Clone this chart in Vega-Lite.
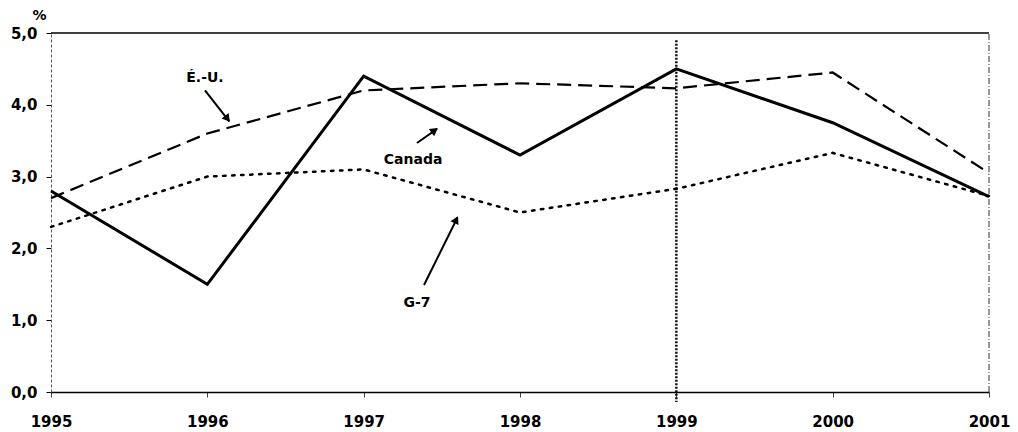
{
  "$schema": "https://vega.github.io/schema/vega-lite/v6.json",
  "width": 938,
  "height": 359,
  "autosize": {"type": "none"},
  "padding": {"left": 51, "top": 33, "right": 29, "bottom": 40},
  "background": "white",
  "config": {"view": {"stroke": null}, "font": "DejaVu Sans"},
  "datasets": {
    "series": [
      {"year": 1995, "series": "Canada", "value": 2.8},
      {"year": 1996, "series": "Canada", "value": 1.5},
      {"year": 1997, "series": "Canada", "value": 4.4},
      {"year": 1998, "series": "Canada", "value": 3.3},
      {"year": 1999, "series": "Canada", "value": 4.5},
      {"year": 2000, "series": "Canada", "value": 3.75},
      {"year": 2001, "series": "Canada", "value": 2.72},
      {"year": 1995, "series": "É.-U.", "value": 2.7},
      {"year": 1996, "series": "É.-U.", "value": 3.6},
      {"year": 1997, "series": "É.-U.", "value": 4.2},
      {"year": 1998, "series": "É.-U.", "value": 4.3},
      {"year": 1999, "series": "É.-U.", "value": 4.23},
      {"year": 2000, "series": "É.-U.", "value": 4.45},
      {"year": 2001, "series": "É.-U.", "value": 3.05},
      {"year": 1995, "series": "G-7", "value": 2.3},
      {"year": 1996, "series": "G-7", "value": 3.0},
      {"year": 1997, "series": "G-7", "value": 3.1},
      {"year": 1998, "series": "G-7", "value": 2.5},
      {"year": 1999, "series": "G-7", "value": 2.83},
      {"year": 2000, "series": "G-7", "value": 3.33},
      {"year": 2001, "series": "G-7", "value": 2.73}
    ],
    "notes": [
      {"label": "É.-U.", "tx": 1995.985, "ty": 4.37, "x0": 1995.985, "y0": 4.2, "x1": 1996.14, "y1": 3.77, "hx": 1996.129, "hy": 3.805},
      {"label": "Canada", "tx": 1997.316, "ty": 3.23, "x0": 1997.341, "y0": 3.468, "x1": 1997.47, "y1": 3.665, "hx": 1997.454, "hy": 3.645},
      {"label": "G-7", "tx": 1997.341, "ty": 1.24, "x0": 1997.386, "y0": 1.49, "x1": 1997.6, "y1": 2.43, "hx": 1997.592, "hy": 2.401}
    ]
  },
  "layer": [
    {
      "data": {"values": [{}]},
      "mark": {"type": "rule", "color": "#000", "strokeWidth": 1.5},
      "encoding": {
        "x": {"datum": 1995, "type": "quantitative"},
        "x2": {"datum": 2001},
        "y": {"datum": 5, "type": "quantitative"}
      }
    },
    {
      "data": {"values": [{}]},
      "mark": {"type": "rule", "color": "#333", "strokeWidth": 1, "strokeDash": [6, 2, 1, 2]},
      "encoding": {
        "x": {"datum": 2001, "type": "quantitative"},
        "y": {"datum": 0, "type": "quantitative"},
        "y2": {"datum": 5}
      }
    },
    {
      "data": {"values": [{}]},
      "mark": {"type": "rule", "color": "#111", "strokeWidth": 2.5, "strokeDash": [2, 1.5]},
      "encoding": {
        "x": {"datum": 1999, "type": "quantitative"},
        "y": {"datum": 4.9, "type": "quantitative"},
        "y2": {"datum": -0.14}
      }
    },
    {
      "data": {"name": "series"},
      "transform": [{"filter": "datum.series === 'G-7'"}],
      "mark": {"type": "line", "color": "#000", "strokeWidth": 2.5, "strokeDash": [2.5, 6.5], "strokeCap": "round"},
      "encoding": {
        "x": {"field": "year", "type": "quantitative"},
        "y": {"field": "value", "type": "quantitative"}
      }
    },
    {
      "data": {"name": "series"},
      "transform": [{"filter": "datum.series === 'É.-U.'"}],
      "mark": {"type": "line", "color": "#000", "strokeWidth": 2.2, "strokeDash": [14, 7]},
      "encoding": {
        "x": {"field": "year", "type": "quantitative"},
        "y": {"field": "value", "type": "quantitative"}
      }
    },
    {
      "data": {"name": "series"},
      "transform": [{"filter": "datum.series === 'Canada'"}],
      "mark": {"type": "line", "color": "#000", "strokeWidth": 3},
      "encoding": {
        "x": {
          "field": "year", "type": "quantitative",
          "scale": {"domain": [1995, 2001], "nice": false, "zero": false},
          "axis": {
            "title": null, "values": [1995, 1996, 1997, 1998, 1999, 2000, 2001], "format": "d",
            "grid": false, "domainColor": "#000", "domainWidth": 1.5,
            "tickColor": "#444", "tickSize": 5, "tickWidth": 1,
            "labelFont": "DejaVu Sans", "labelFontWeight": "bold", "labelFontSize": 15, "labelColor": "#000",
            "labelPadding": 17, "labelOverlap": false, "labelFlush": false
          }
        },
        "y": {
          "field": "value", "type": "quantitative",
          "scale": {"domain": [0, 5], "nice": false},
          "axis": {
            "title": "%", "titleAngle": 0, "titleX": -12, "titleY": -18, "titleAlign": "center", "titleBaseline": "middle",
            "titleFont": "DejaVu Sans", "titleFontSize": 14, "titleFontWeight": "bold", "titleColor": "#000",
            "values": [0, 1, 2, 3, 4, 5],
            "labelExpr": "replace(format(datum.value, '.1f'), '.', ',')",
            "grid": false, "domainColor": "#555", "domainWidth": 1, "domainDash": [3, 2],
            "tickColor": "#000", "tickSize": 5, "tickWidth": 1,
            "labelFont": "DejaVu Sans", "labelFontWeight": "bold", "labelFontSize": 15, "labelColor": "#000",
            "labelPadding": 9
          }
        }
      }
    },
    {
      "data": {"name": "notes"},
      "mark": {"type": "rule", "color": "#000", "strokeWidth": 2},
      "encoding": {
        "x": {"field": "x0", "type": "quantitative"},
        "y": {"field": "y0", "type": "quantitative"},
        "x2": {"field": "x1"},
        "y2": {"field": "y1"}
      }
    },
    {
      "data": {"name": "notes"},
      "transform": [{"filter": "datum.label === 'É.-U.'"}],
      "mark": {"type": "point", "shape": "triangle-up", "filled": true, "color": "#000", "size": 80, "angle": 142, "opacity": 1},
      "encoding": {
        "x": {"field": "hx", "type": "quantitative"},
        "y": {"field": "hy", "type": "quantitative"}
      }
    },
    {
      "data": {"name": "notes"},
      "transform": [{"filter": "datum.label === 'Canada'"}],
      "mark": {"type": "point", "shape": "triangle-up", "filled": true, "color": "#000", "size": 80, "angle": 54, "opacity": 1},
      "encoding": {
        "x": {"field": "hx", "type": "quantitative"},
        "y": {"field": "hy", "type": "quantitative"}
      }
    },
    {
      "data": {"name": "notes"},
      "transform": [{"filter": "datum.label === 'G-7'"}],
      "mark": {"type": "point", "shape": "triangle-up", "filled": true, "color": "#000", "size": 80, "angle": 26, "opacity": 1},
      "encoding": {
        "x": {"field": "hx", "type": "quantitative"},
        "y": {"field": "hy", "type": "quantitative"}
      }
    },
    {
      "data": {"name": "notes"},
      "mark": {"type": "text", "font": "DejaVu Sans", "fontWeight": "bold", "fontSize": 14, "color": "#000", "align": "center", "baseline": "middle"},
      "encoding": {
        "x": {"field": "tx", "type": "quantitative"},
        "y": {"field": "ty", "type": "quantitative"},
        "text": {"field": "label"}
      }
    }
  ]
}
